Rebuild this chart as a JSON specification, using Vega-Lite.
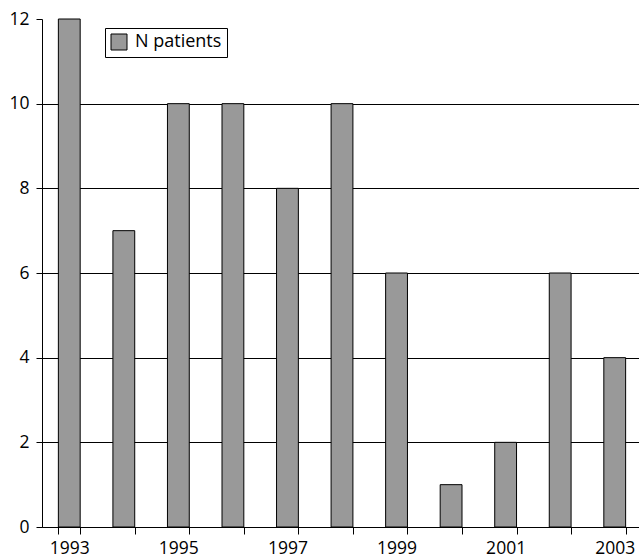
{
  "$schema": "https://vega.github.io/schema/vega-lite/v6.json",
  "width": 597,
  "height": 508,
  "autosize": {"type": "none"},
  "padding": {"left": 42, "top": 19, "right": 0, "bottom": 31},
  "background": "white",
  "config": {
    "view": {"stroke": null},
    "font": "Open Sans",
    "axis": {"labelFont": "Open Sans", "labelFontSize": 17.5, "labelColor": "black", "domainColor": "black", "tickColor": "black"}
  },
  "data": {
    "values": [
      {"year": "1993", "n": 12, "series": "N patients"},
      {"year": "1994", "n": 7, "series": "N patients"},
      {"year": "1995", "n": 10, "series": "N patients"},
      {"year": "1996", "n": 10, "series": "N patients"},
      {"year": "1997", "n": 8, "series": "N patients"},
      {"year": "1998", "n": 10, "series": "N patients"},
      {"year": "1999", "n": 6, "series": "N patients"},
      {"year": "2000", "n": 1, "series": "N patients"},
      {"year": "2001", "n": 2, "series": "N patients"},
      {"year": "2002", "n": 6, "series": "N patients"},
      {"year": "2003", "n": 4, "series": "N patients"}
    ]
  },
  "mark": {"type": "bar", "stroke": "black", "strokeWidth": 1},
  "encoding": {
    "x": {
      "field": "year",
      "type": "ordinal",
      "scale": {"range": [0, 600], "paddingInner": 0.6, "paddingOuter": 0.3},
      "axis": {
        "title": null,
        "labelAngle": 0,
        "tickBand": "extent",
        "tickSize": 7,
        "labelPadding": 5,
        "domainColor": "black",
        "labelExpr": "toNumber(datum.value) % 2 == 1 ? datum.label : ''"
      }
    },
    "y": {
      "field": "n",
      "type": "quantitative",
      "scale": {"domain": [0, 12], "nice": false},
      "axis": {
        "title": null,
        "values": [0, 2, 4, 6, 8, 10, 12],
        "tickSize": 6,
        "labelPadding": 7,
        "grid": true,
        "gridColor": "black",
        "gridOpacity": {"condition": {"test": "datum.value == 12", "value": 0}, "value": 1},
        "domainColor": "black"
      }
    },
    "color": {
      "field": "series",
      "type": "nominal",
      "scale": {"range": ["#999999"]},
      "legend": {
        "title": null,
        "orient": "none",
        "legendX": 63,
        "legendY": 9,
        "symbolType": "square",
        "symbolSize": 256,
        "symbolStrokeColor": "black",
        "symbolStrokeWidth": 1,
        "symbolFillColor": "#999999",
        "labelFont": "Open Sans",
        "labelFontSize": 18,
        "labelColor": "black",
        "labelOffset": 7,
        "strokeColor": "black",
        "fillColor": "white",
        "padding": 5
      }
    }
  }
}
